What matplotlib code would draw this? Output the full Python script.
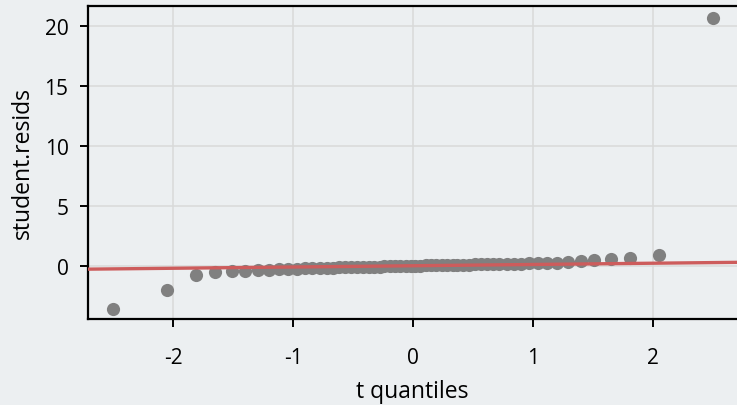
import matplotlib.pyplot as plt
import numpy as np

plt.rcParams['font.family'] = ['Open Sans', 'DejaVu Sans']
plt.rcParams['axes.unicode_minus'] = False

# theoretical t quantiles (sorted) and studentized residuals (sorted)
t_quantiles = [
    -2.50, -2.05, -1.81, -1.65, -1.51, -1.40, -1.29, -1.20, -1.12, -1.04,
    -0.97, -0.90, -0.84, -0.78, -0.72, -0.67, -0.62, -0.57, -0.52, -0.47,
    -0.42, -0.37, -0.33, -0.28, -0.24, -0.19, -0.15, -0.11, -0.06, -0.02,
    0.02, 0.06, 0.11, 0.15, 0.19, 0.24, 0.28, 0.33, 0.37, 0.42,
    0.47, 0.52, 0.57, 0.62, 0.67, 0.72, 0.78, 0.84, 0.90, 0.97,
    1.04, 1.12, 1.20, 1.29, 1.40, 1.51, 1.65, 1.81, 2.05, 2.50,
]
student_resids = [
    -3.55, -2.00, -0.75, -0.48, -0.46, -0.40, -0.35, -0.31, -0.28, -0.25,
    -0.23, -0.21, -0.19, -0.17, -0.15, -0.14, -0.12, -0.11, -0.10, -0.09,
    -0.08, -0.07, -0.06, -0.05, -0.04, -0.03, -0.02, -0.01, 0.00, 0.01,
    0.02, 0.03, 0.04, 0.05, 0.06, 0.07, 0.08, 0.09, 0.10, 0.11,
    0.12, 0.13, 0.14, 0.15, 0.16, 0.17, 0.18, 0.19, 0.20, 0.21,
    0.22, 0.25, 0.28, 0.33, 0.39, 0.50, 0.62, 0.66, 0.92, 20.70,
]

# reference line through the quartiles
line_intercept = 0.02
line_slope = 0.105

bg = '#ECEFF1'
fig = plt.figure(figsize=(7.37, 4.06), dpi=100, facecolor=bg)
ax = fig.add_axes([0.1194, 0.2118, 0.8806, 0.771])
ax.set_facecolor(bg)

xlim = (-2.71, 2.70)
ax.scatter(t_quantiles, student_resids, s=90, color='#808080', zorder=3,
           linewidths=0)
xs = np.array(xlim)
ax.plot(xs, line_intercept + line_slope * xs, color='#CD5C5C', lw=2.4,
        zorder=4)

ax.set_xlim(*xlim)
ax.set_ylim(-4.42, 21.67)
ax.set_xticks([-2, -1, 0, 1, 2])
ax.set_yticks([0, 5, 10, 15, 20])
ax.grid(True, color='#D9D9D9', lw=1.1, zorder=0)
ax.set_axisbelow(True)

for side in ['left', 'bottom', 'top']:
    ax.spines[side].set_linewidth(1.6)
    ax.spines[side].set_color('black')
ax.spines['right'].set_visible(False)

ax.tick_params(length=6, width=1.4, labelsize=15, colors='black')
ax.tick_params(axis='x', pad=14)
ax.tick_params(axis='y', pad=8)
ax.set_xlabel('t quantiles', fontsize=16.5, labelpad=8)
ax.set_ylabel('student.resids', fontsize=16.5, labelpad=7)

fig.savefig('out.png', dpi=100, facecolor=bg)
